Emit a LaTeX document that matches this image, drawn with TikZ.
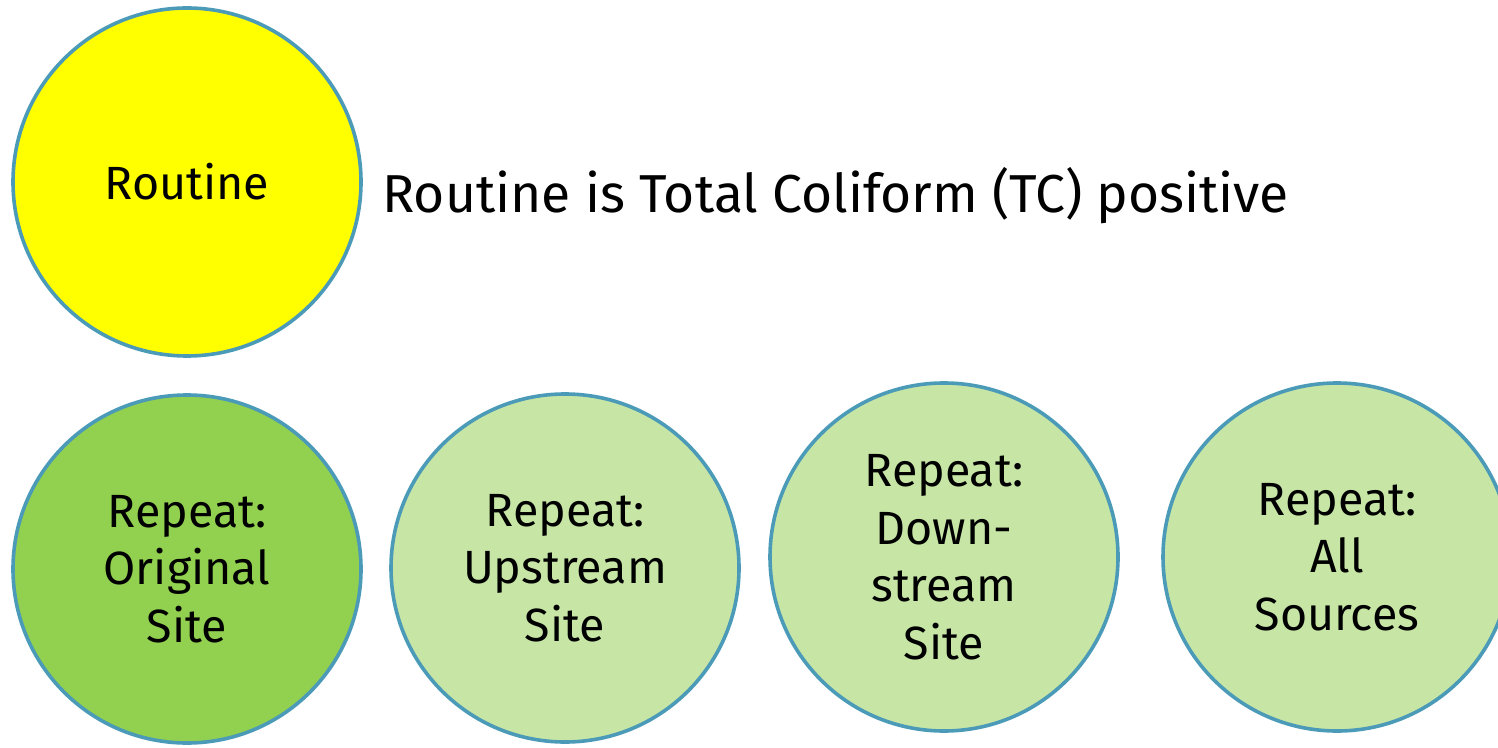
\documentclass[tikz,border=0pt]{standalone}
\usepackage{fontspec}
\setmainfont{Fira Sans}
\definecolor{ringblue}{HTML}{4B9BB8}
\definecolor{routineyellow}{HTML}{FFFF00}
\definecolor{darkgreen}{HTML}{92D050}
\definecolor{lightgreen}{HTML}{C7E6A6}
\begin{document}
\begin{tikzpicture}[x=0.5pt,y=-0.5pt,
  bubble/.style={circle, draw=ringblue, line width=1.8pt, inner sep=0pt,
    minimum size=174pt, align=center, font=\fontsize{23.3}{28.75}\selectfont},
  caption/.style={anchor=base west, inner sep=0pt, font=\fontsize{26.7}{32}\selectfont}]
\useasboundingbox (0,0) rectangle (1498,748);
\begin{scope}
\clip (0,0) rectangle (1498,748);
\node[bubble, fill=routineyellow] (routine) at (187,182) {Routine};
\node[caption] (claim) at (382,213) {Routine is Total Coliform (TC) positive};
\node[bubble, fill=darkgreen] (orig) at (187,569) {Repeat:\\Original\\Site};
\node[bubble, fill=lightgreen] (up) at (565,568) {Repeat:\\Upstream\\Site};
\node[bubble, fill=lightgreen] (down) at (944,557) {Repeat:\\Down-\\stream\\Site};
\node[bubble, fill=lightgreen] (all) at (1337,557) {Repeat:\\All\\Sources};
\end{scope}
\end{tikzpicture}
\end{document}
